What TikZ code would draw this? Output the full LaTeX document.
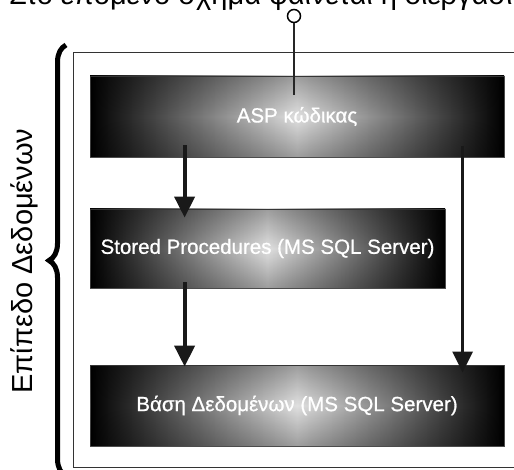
\documentclass[tikz,border=0pt]{standalone}
\usepackage{fontspec}
\newfontfamily\arial{Liberation Sans}
\newfontfamily\arialb[FakeBold=0.8]{Liberation Sans}
\usetikzlibrary{arrows.meta,decorations.pathreplacing,fadings}
\tikzfading[name=vfade, top color=transparent!70, bottom color=transparent!70, middle color=transparent!100]
\tikzset{
  boxst/.style={draw=black!70, line width=0.8pt, left color=black, right color=black, middle color=black!12,
    inner sep=0pt, text=white, font=\arialb\fontsize{20.5}{24}\selectfont,
    postaction={fill=black, path fading=vfade}},
  arr/.style={line width=4pt, -{Triangle[width=20pt,length=21pt]}, black!90},
  arrthin/.style={line width=3pt, -{Triangle[width=20pt,length=21pt]}, black!90},
}
\begin{document}
\begin{tikzpicture}[x=1pt,y=-1pt]
\useasboundingbox (0,0) rectangle (514,470);
% clipped heading text
\node[anchor=base west, inner sep=0pt, font=\arial\fontsize{29}{34}\selectfont] (head) at (9,4.5) {Στο επόμενο σχήμα φαίνεται η διεργασία};
% frame
\draw[line width=1.5pt, black!80] (514,52.7) -- (73.5,52.7) -- (73.5,467.7) -- (514,467.7);
% brace
\draw[decorate, decoration={brace, amplitude=17pt}, line width=5pt] (66,476) -- (66,45);
% label
\node[rotate=90, anchor=base, inner sep=0pt, font=\arial\fontsize{29}{34}\selectfont] (lbl) at (32,261) {Επίπεδο Δεδομένων};
% boxes
\node[boxst, minimum width=414pt, minimum height=81pt] (asp) at (297,116.5) {ASP κώδικας};
\node[boxst, minimum width=355pt, minimum height=79pt] (sp) at (267.5,248.5) {Stored Procedures (MS SQL Server)};
\node[boxst, minimum width=414pt, minimum height=81pt] (db) at (297,405.5) {Βάση Δεδομένων (MS SQL Server)};
% pin on top
\node[circle, draw, line width=1.5pt, minimum size=13pt, inner sep=0pt] (pin) at (294,16) {};
\draw[line width=1.8pt, black!85] (pin.south) -- ([xshift=-3pt,yshift=-19pt]asp.north);
% arrows
\draw[arr] ([xshift=95pt,yshift=12pt]asp.south west) -- ([xshift=95pt,yshift=-9pt]sp.north west);
\draw[arr] ([xshift=95pt,yshift=6pt]sp.south west) -- ([xshift=95pt,yshift=-2pt]db.north west);
\draw[arrthin] ([xshift=373pt,yshift=11pt]asp.south west) -- ([xshift=373pt,yshift=-8pt]db.north west);
\end{tikzpicture}
\end{document}
